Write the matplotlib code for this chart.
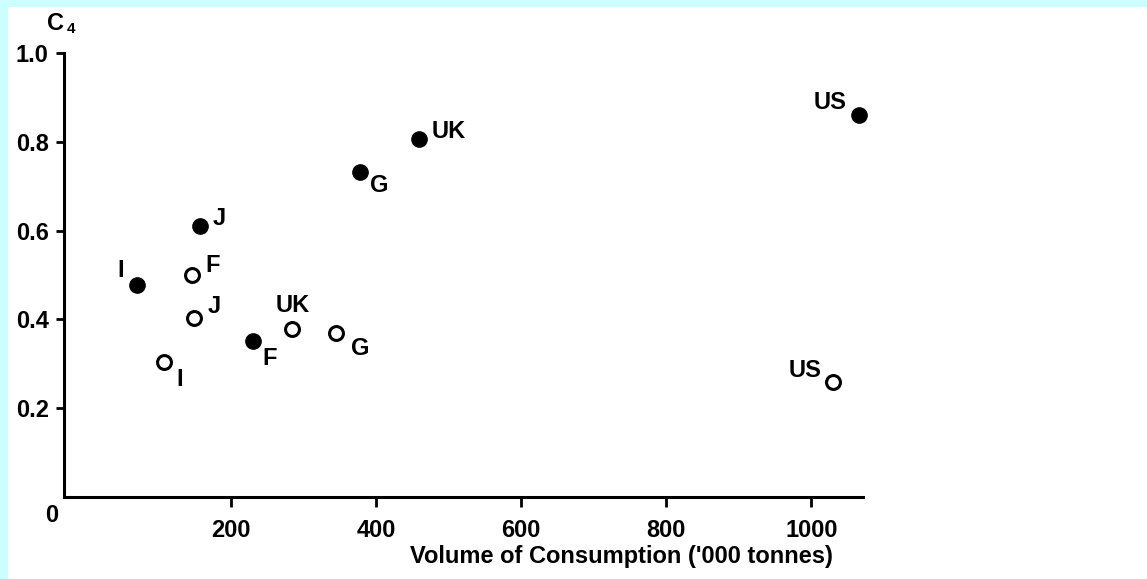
import matplotlib
matplotlib.use("Agg")
import matplotlib.pyplot as plt
from matplotlib.patches import Rectangle

# Data (x: volume of consumption '000 tonnes, y: C4)
filled_labels = ["US", "UK", "G", "J", "I", "F"]
filled_x = [1065, 459, 378, 158, 70, 230]
filled_y = [0.86, 0.807, 0.732, 0.61, 0.478, 0.351]

open_labels = ["US", "F", "J", "UK", "G", "I"]
open_x = [1030, 147, 149, 284, 345, 108]
open_y = [0.259, 0.499, 0.404, 0.379, 0.37, 0.304]

# label offsets in pixels (dx right, dy up)
filled_off = [(-29, 13), (30, 7), (19, -14), (19, 8), (-16, 14), (17, -17)]
open_off = [(-28, 12), (20, 10), (20, 11), (1, 23), (24, -16), (16, -17)]

x_ticks = [200, 400, 600, 800, 1000]
y_ticks = [0.2, 0.4, 0.6, 0.8, 1.0]
y_tick_labels = ["0.2", "0.4", "0.6", "0.8", "1.0"]

W, H = 1147, 579
FONT = "Liberation Sans"
FS = 17
FW = "bold"

plt.rcParams["font.family"] = [FONT, "DejaVu Sans"]
plt.rcParams["font.weight"] = FW

fig = plt.figure(figsize=(W / 100, H / 100), dpi=100)
fig.patch.set_facecolor("#CCFFFF")
fig.patches.append(Rectangle((8 / W, 0), 1 - 8 / W, 1 - 7 / H,
                             transform=fig.transFigure, facecolor="white",
                             edgecolor="none", zorder=-10))

left, right = 64 / W, 863 / W
bottom, top = 1 - 497 / H, 1 - 53 / H
ax = fig.add_axes([left, bottom, right - left, top - bottom])
ax.set_zorder(1)
ax.set_facecolor("none")
ax.set_xlim(-30, 1071)
ax.set_ylim(0, 1.0)

for s in ["top", "right"]:
    ax.spines[s].set_visible(False)
for s in ["left", "bottom"]:
    ax.spines[s].set_linewidth(2.2)
    ax.spines[s].set_color("black")

ax.set_xticks(x_ticks)
ax.set_xticklabels([str(v) for v in x_ticks], fontweight=FW)
ax.set_yticks(y_ticks)
ax.set_yticklabels(y_tick_labels, fontweight=FW)
ax.tick_params(axis="x", direction="out", length=7, width=2, pad=9,
               labelsize=FS)
ax.tick_params(axis="y", direction="out", length=6, width=2, pad=5,
               labelsize=FS)

ax.plot(filled_x, filled_y, "o", color="black", markersize=11, linestyle="none",
        zorder=3, clip_on=False)
ax.plot(open_x, open_y, "o", markerfacecolor="white", markeredgecolor="black",
        markeredgewidth=2.2, markersize=10, linestyle="none", zorder=3,
        clip_on=False)

k = 0.72  # px -> points at dpi 100
for lab, x, y, (dx, dy) in zip(filled_labels, filled_x, filled_y, filled_off):
    ax.annotate(lab, (x, y), xytext=(dx * k, dy * k), textcoords="offset points",
                ha="center", va="center", fontsize=FS, fontweight=FW)
for lab, x, y, (dx, dy) in zip(open_labels, open_x, open_y, open_off):
    ax.annotate(lab, (x, y), xytext=(dx * k, dy * k), textcoords="offset points",
                ha="center", va="center", fontsize=FS, fontweight=FW)

# origin label
fig.text(52 / W, 1 - 515 / H, "0", ha="center", va="center", fontsize=FS,
         fontweight=FW)
# y axis title C4
fig.text(47 / W, 1 - 24 / H, "C", ha="left", va="center", fontsize=FS,
         fontweight=FW)
fig.text(67 / W, 1 - 29 / H, "4", ha="left", va="center", fontsize=11,
         fontweight=FW)
# x axis title
fig.text(621 / W, 1 - 557 / H, "Volume of Consumption ('000 tonnes)",
         ha="center", va="center", fontsize=FS, fontweight=FW)

fig.savefig("out.png", dpi=100)
